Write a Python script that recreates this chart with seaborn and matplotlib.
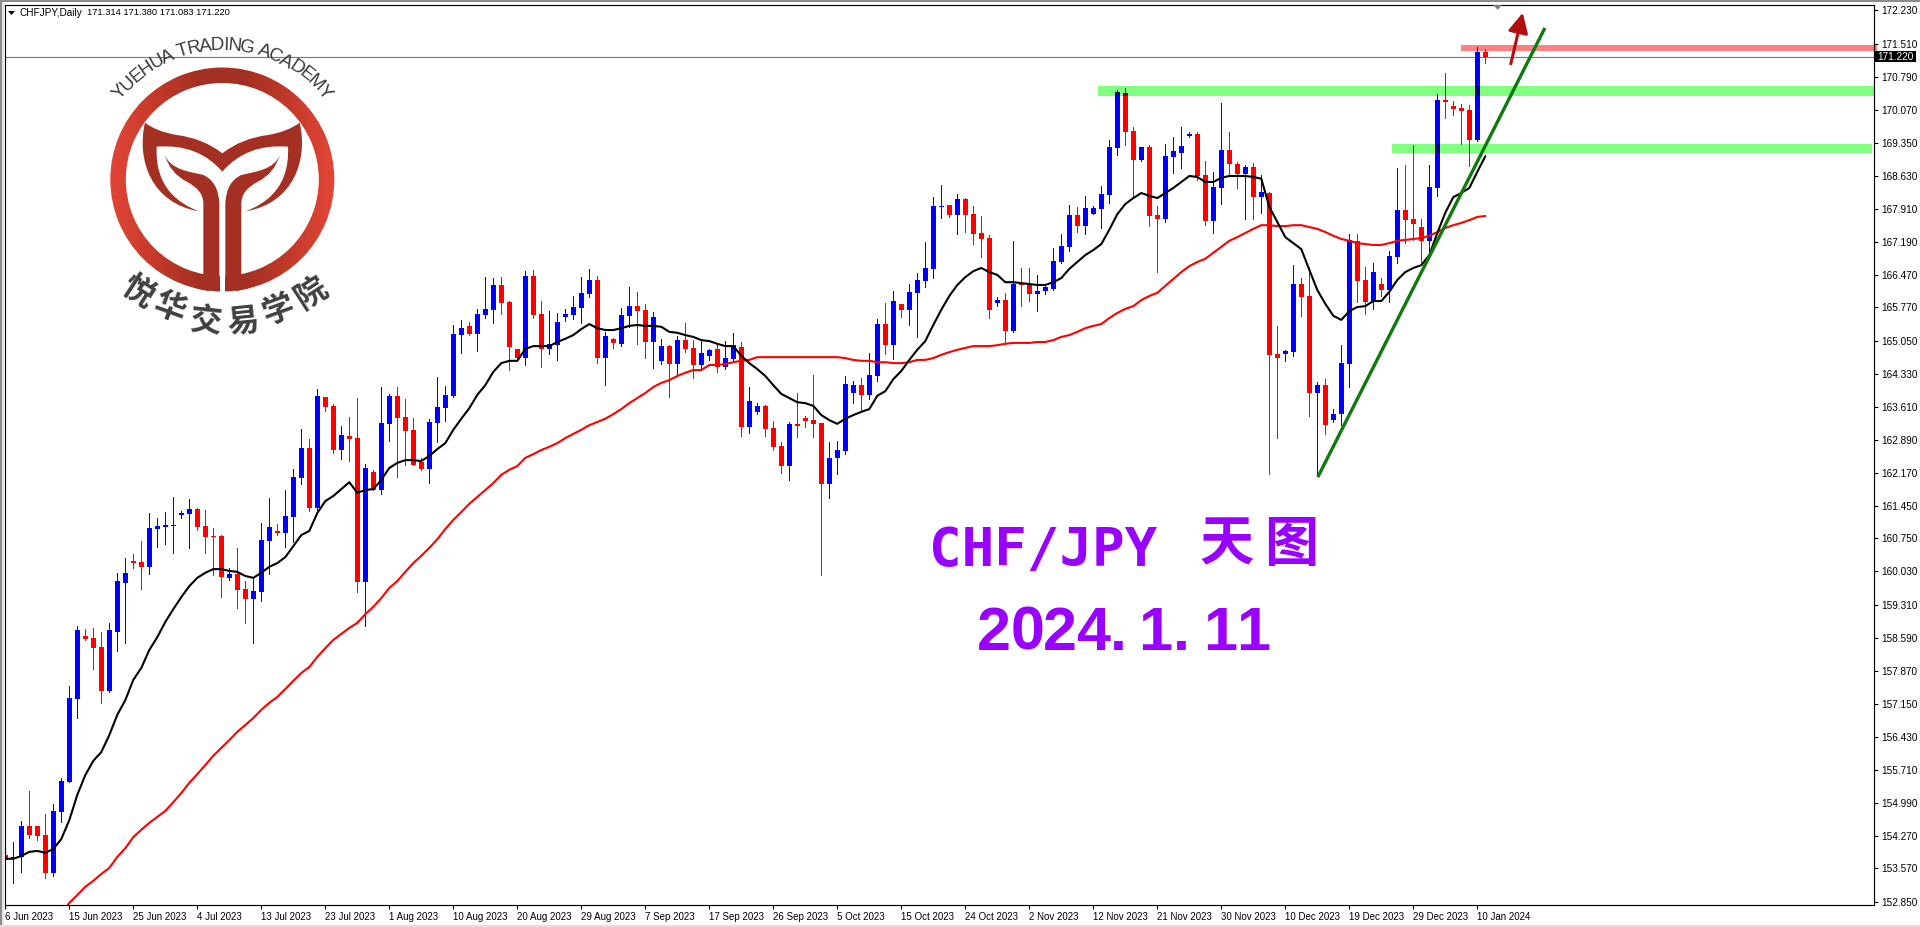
import numpy as np
import pandas as pd
import seaborn as sns
import matplotlib
matplotlib.use('Agg')
import matplotlib.pyplot as plt
from matplotlib.colors import LinearSegmentedColormap
from matplotlib.font_manager import FontProperties
from matplotlib.patches import PathPatch, Rectangle, Wedge, Polygon
from matplotlib.path import Path
from matplotlib.textpath import text_to_path

# candle direction, B = up (blue), R = down (red)
direction = ("RBBRRRBBBBRRRBBBRRBB" "BBBBRRRRBRRBBBRBBBRB" "RRBRRBRBBRRRRBBBBBRB" "BBRRRBRRBBBBBBRBRBBR"
             "RBBRBRRBBRBBRBBRRRBR" "RRRBBBBRBBRBRBBBBBRB" "RRRRBRBRRBBBBBRBBBBB" "RRBRRBBBBRRBBRRBRBRR"
             "BBRRBRBBBRRBRBBRRRBB" "RRRRBR")

highs = [154.30,154.15,154.60,155.25,154.49,154.75,154.97,155.54,157.54,158.84,
         158.78,158.80,158.71,158.91,160.00,160.32,160.41,160.69,161.30,161.19,
         161.32,161.65,161.34,161.60,161.41,161.37,160.97,160.82,160.10,160.54,
         159.82,159.89,161.08,161.63,161.06,161.80,162.26,163.13,162.91,164.00,
         163.82,163.67,163.19,163.39,163.80,162.37,162.24,164.04,163.89,164.04,
         163.78,163.37,162.50,163.35,164.26,164.06,165.39,165.50,165.45,165.74,
         166.43,166.41,166.43,165.91,164.87,166.56,166.59,165.91,165.69,165.65,
         165.74,166.02,166.43,166.61,166.46,165.24,165.11,165.76,166.22,166.11,
         165.85,165.67,165.09,164.95,165.15,165.43,165.06,165.04,164.87,164.95,
         165.04,165.22,165.02,164.04,163.69,163.65,163.30,162.84,163.28,163.91,
         163.41,164.30,163.26,162.84,162.87,164.28,164.17,164.24,164.78,165.52,
         165.87,166.13,165.85,166.28,166.52,167.19,168.17,168.43,168.00,168.24,
         168.15,167.98,167.76,167.35,166.00,166.09,167.22,166.63,166.63,166.48,
         166.24,167.06,167.37,168.00,167.96,168.20,167.98,168.41,169.41,170.50,
         170.54,169.70,169.26,169.30,167.98,169.33,169.48,169.70,169.59,169.59,
         168.96,168.72,170.22,169.59,168.93,168.87,168.91,168.65,168.28,165.37,
         164.85,166.69,166.41,166.65,164.15,164.22,163.56,164.95,167.37,167.37,
         166.65,166.74,166.41,167.00,168.80,168.87,169.30,167.70,168.87,170.41,
         170.87,170.26,170.20,170.17,171.44,171.39]

lows = [153.36,153.25,153.49,154.23,154.19,153.36,153.41,154.58,155.45,156.84,
        158.54,157.91,157.17,157.41,158.30,158.47,160.10,159.65,159.97,160.56,
        160.63,160.43,161.19,160.54,160.93,160.43,159.95,159.47,159.84,159.23,
        158.91,158.47,159.39,159.97,160.82,160.56,160.67,161.93,161.34,161.37,
        163.52,162.61,162.47,162.43,159.58,158.84,161.80,161.71,162.87,162.08,
        162.34,162.34,162.24,161.95,162.84,163.30,163.82,164.78,165.17,164.82,
        165.54,165.43,165.63,164.41,164.67,164.52,165.54,164.48,164.76,164.63,
        165.48,165.52,165.43,166.00,164.56,164.08,164.89,164.93,165.35,164.98,
        164.67,164.45,164.54,163.82,164.28,164.80,164.24,164.43,164.63,164.37,
        164.43,164.61,162.98,163.04,163.45,162.98,162.67,162.17,162.02,162.95,
        163.17,162.95,159.95,161.63,162.15,162.58,163.69,163.50,163.78,164.17,
        164.76,164.65,165.56,165.39,165.13,166.22,166.41,167.72,167.74,167.37,
        167.41,167.15,166.87,165.54,165.80,164.98,165.24,165.80,165.91,165.69,
        166.06,166.15,166.74,167.00,167.41,167.37,167.80,167.50,168.04,169.09,
        169.30,168.17,168.96,167.54,166.54,167.63,168.70,168.80,169.48,168.54,
        167.56,167.39,168.02,168.65,168.37,167.70,167.70,167.83,162.15,162.93,
        164.61,164.72,165.59,163.41,162.15,163.02,163.28,163.21,164.04,165.89,
        165.63,165.74,166.02,165.89,166.74,167.17,167.24,166.76,166.96,168.20,
        169.89,169.96,169.33,168.85,169.39,171.09]

body_tops = [153.86,153.82,154.49,154.49,154.49,154.30,154.82,155.47,157.28,158.76,
             158.63,158.58,158.39,158.76,159.82,160.00,160.26,160.23,160.97,161.02,
             161.04,161.04,161.30,161.39,161.39,161.02,160.80,160.80,159.97,159.97,
             159.65,159.60,160.71,161.00,160.91,161.24,162.08,162.71,162.71,163.85,
             163.82,163.63,163.00,162.98,162.93,162.28,162.19,163.26,163.85,163.85,
             163.39,163.11,162.41,163.28,163.61,163.87,165.19,165.32,165.37,165.63,
             165.74,166.26,166.26,165.89,164.87,166.46,166.46,165.63,164.98,165.45,
             165.63,165.78,166.09,166.37,166.37,165.15,165.09,165.61,165.80,165.80,
             165.72,165.56,164.93,164.93,165.06,165.06,164.89,164.78,164.85,164.87,
             164.67,164.95,164.91,163.74,163.63,163.63,163.15,162.76,163.24,163.24,
             163.37,163.32,163.26,162.50,162.67,164.11,164.08,164.08,164.30,165.41,
             165.41,165.91,165.85,166.11,166.37,166.63,167.98,167.98,168.00,168.13,
             168.13,167.80,167.39,167.28,165.93,165.93,166.28,166.28,166.26,166.13,
             166.22,166.78,167.11,167.78,167.78,167.93,167.93,168.24,169.26,170.46,
             170.44,169.61,169.26,169.26,167.78,169.07,169.17,169.28,169.54,169.54,
             168.65,168.39,169.20,169.20,168.89,168.83,168.83,168.28,168.26,164.76,
             164.82,166.28,166.28,166.02,164.08,164.08,163.45,164.56,167.24,167.22,
             166.37,166.54,166.28,166.89,167.89,167.89,167.70,167.52,168.39,170.28,
             170.28,170.15,170.11,170.07,171.33,171.33]

body_bottoms = [153.75,153.78,153.82,154.30,154.27,153.47,153.47,154.80,155.45,157.26,
                158.56,158.36,157.43,157.43,158.71,159.78,160.21,160.13,160.13,160.95,
                161.00,161.02,161.26,161.28,161.00,160.78,160.78,159.91,159.89,159.63,
                159.43,159.43,159.58,160.69,160.87,160.87,161.21,162.06,161.41,161.41,
                163.61,162.67,162.67,162.91,159.80,159.80,161.80,161.80,163.24,163.37,
                163.08,162.34,162.26,162.26,163.26,163.58,163.85,165.17,165.19,165.19,
                165.61,165.72,165.87,164.91,164.67,164.67,165.61,164.87,164.87,164.95,
                165.56,165.61,165.76,166.06,164.67,164.67,165.00,164.98,165.59,165.69,
                165.02,165.02,164.61,164.54,164.54,164.87,164.52,164.52,164.72,164.48,
                164.48,164.65,163.17,163.17,163.50,163.13,162.74,162.32,162.32,163.19,
                163.30,163.24,161.93,161.93,162.50,162.65,163.91,163.87,163.87,164.28,
                164.95,164.95,165.72,165.72,166.09,166.35,166.61,167.96,167.78,167.78,
                167.78,167.37,167.26,165.72,165.87,165.26,165.26,166.26,166.06,166.06,
                166.13,166.17,166.76,167.09,167.54,167.54,167.80,167.91,168.22,169.24,
                169.59,168.98,168.98,167.76,167.70,167.70,169.04,169.13,169.50,168.63,
                167.65,167.65,168.37,168.89,168.67,168.67,168.17,168.17,164.74,164.67,
                164.76,164.80,166.00,163.91,163.91,163.21,163.32,163.45,164.54,166.35,
                165.89,165.91,166.15,166.15,166.87,167.67,167.59,167.22,167.22,168.37,
                170.24,170.09,170.04,169.41,169.41,171.22]

# black moving average
ma_fast = [153.78,153.78,153.84,153.93,153.95,153.91,153.99,154.21,154.62,155.17,
           155.60,155.91,156.10,156.47,156.91,157.23,157.67,157.93,158.32,158.60,
           158.93,159.21,159.47,159.71,159.89,160.00,160.08,160.08,160.04,160.02,
           159.93,159.89,160.00,160.13,160.21,160.34,160.58,160.82,160.91,161.30,
           161.56,161.67,161.82,161.97,161.74,161.80,161.82,162.02,162.28,162.39,
           162.45,162.45,162.43,162.54,162.69,162.82,163.11,163.35,163.58,163.87,
           164.08,164.37,164.56,164.61,164.61,164.87,164.93,164.93,164.93,165.02,
           165.09,165.17,165.30,165.41,165.32,165.28,165.28,165.32,165.37,165.39,
           165.37,165.37,165.35,165.24,165.22,165.17,165.13,165.06,165.04,164.98,
           164.93,164.93,164.72,164.56,164.43,164.28,164.08,163.89,163.80,163.71,
           163.69,163.63,163.43,163.32,163.24,163.35,163.43,163.50,163.56,163.85,
           163.95,164.21,164.39,164.63,164.85,165.04,165.39,165.72,166.02,166.26,
           166.43,166.56,166.63,166.54,166.48,166.32,166.32,166.30,166.28,166.26,
           166.26,166.32,166.41,166.61,166.76,166.91,167.02,167.15,167.46,167.80,
           168.02,168.15,168.26,168.20,168.15,168.26,168.37,168.50,168.63,168.61,
           168.50,168.50,168.59,168.63,168.63,168.63,168.61,168.57,167.96,167.63,
           167.30,167.17,167.04,166.59,166.15,165.85,165.59,165.50,165.69,165.78,
           165.80,165.91,165.91,166.11,166.37,166.54,166.63,166.69,166.91,167.39,
           167.83,168.17,168.26,168.37,168.72,169.06]

# red moving average, comes in from below the chart
nan = float('nan')
ma_slow = [nan,nan,nan,nan,nan,nan,nan,152.56,152.82,152.99,
           153.17,153.30,153.45,153.58,153.82,154.01,154.25,154.41,154.56,154.69,
           154.82,155.01,155.21,155.43,155.62,155.82,156.02,156.19,156.36,156.54,
           156.69,156.84,157.02,157.17,157.30,157.47,157.65,157.82,157.95,158.17,
           158.36,158.54,158.67,158.80,158.91,159.10,159.26,159.45,159.67,159.82,
           160.02,160.21,160.37,160.54,160.73,160.95,161.15,161.32,161.50,161.65,
           161.80,161.95,162.13,162.24,162.32,162.50,162.58,162.67,162.74,162.82,
           162.93,163.02,163.11,163.21,163.28,163.35,163.45,163.56,163.69,163.80,
           163.91,164.04,164.13,164.19,164.28,164.35,164.41,164.41,164.52,164.52,
           164.54,164.58,164.61,164.63,164.69,164.69,164.69,164.69,164.69,164.69,
           164.69,164.69,164.69,164.69,164.69,164.67,164.63,164.61,164.61,164.58,
           164.58,164.56,164.56,164.58,164.63,164.63,164.67,164.74,164.80,164.85,
           164.89,164.93,164.93,164.93,164.95,164.98,165.00,165.00,165.00,165.02,
           165.02,165.06,165.13,165.17,165.24,165.32,165.37,165.41,165.54,165.65,
           165.74,165.80,165.93,166.02,166.09,166.24,166.39,166.54,166.67,166.76,
           166.83,166.96,167.09,167.22,167.30,167.39,167.48,167.56,167.56,167.54,
           167.54,167.56,167.56,167.52,167.48,167.41,167.33,167.26,167.22,167.17,
           167.15,167.13,167.13,167.17,167.22,167.24,167.26,167.28,167.33,167.41,
           167.50,167.56,167.61,167.67,167.74,167.76]

price_ticks = [152.85,153.57,154.27,154.99,155.71,156.43,157.15,157.87,158.59,159.31,
               160.03,160.75,161.45,162.17,162.89,163.61,164.33,165.05,165.77,166.47,
               167.19,167.91,168.63,169.35,170.07,170.79,171.51,172.23]
date_labels = ['6 Jun 2023','15 Jun 2023','25 Jun 2023','4 Jul 2023','13 Jul 2023','23 Jul 2023',
               '1 Aug 2023','10 Aug 2023','20 Aug 2023','29 Aug 2023','7 Sep 2023','17 Sep 2023',
               '26 Sep 2023','5 Oct 2023','15 Oct 2023','24 Oct 2023','2 Nov 2023','12 Nov 2023',
               '21 Nov 2023','30 Nov 2023','10 Dec 2023','19 Dec 2023','29 Dec 2023','10 Jan 2024']
last_close = 171.22

df = pd.DataFrame({'bar': np.arange(len(direction)), 'dir': list(direction), 'high': highs, 'low': lows,
                   'top': body_tops, 'bottom': body_bottoms, 'fast': ma_fast, 'slow': ma_slow})

sns.set_theme(style='white')
W, H = 1920, 927
UI = 'Liberation Sans'

fig = plt.figure(figsize=(W / 100, H / 100), dpi=100, facecolor='white')
left, right, top, bottom = 4.7, 1873.7, 4.7, 904.5
ax = fig.add_axes([left / W, 1 - bottom / H, (right - left) / W, (bottom - top) / H])
ax.set_facecolor('white')
ax.set_xlim(-0.075, 233.55)
ax.set_ylim(152.785, 172.356)

BODY_W = 0.66
colors = df['dir'].map({'B': '#0000FF', 'R': '#FF0000'})
ax.vlines(df['bar'], df['low'], df['high'], colors=colors, linewidth=0.72, antialiased=False, zorder=2)
ax.bar(df['bar'], df['top'] - df['bottom'], bottom=df['bottom'], width=BODY_W, color=colors,
       linewidth=0, antialiased=False, zorder=2)

sns.lineplot(data=df, x='bar', y='slow', color='#FF0000', linewidth=1.5, ax=ax, legend=False, errorbar=None, zorder=3)
sns.lineplot(data=df, x='bar', y='fast', color='#000000', linewidth=1.5, ax=ax, legend=False, errorbar=None, zorder=3)

# support / resistance bands, candle bodies show darker through them
bands = [(136.6, 233.65, 170.37, 170.59, '#80FF80', {'B': '#000080', 'R': '#800000'}),
         (173.3, 233.4, 169.13, 169.33, '#80FF80', {'B': '#000080', 'R': '#800000'}),
         (181.96, 233.96, 171.35, 171.48, '#FF8080', {'B': '#000080', 'R': '#FF0000'})]
for x0, x1, y0, y1, col, dark in bands:
    rect = Rectangle((x0, y0), x1 - x0, y1 - y0, facecolor=col, edgecolor='none', clip_on=False, zorder=1)
    ax.add_patch(rect)
    inside = df[(df['bar'] >= x0) & (df['top'] > y0) & (df['bottom'] < y1)]
    darker = ax.bar(inside['bar'], inside['top'] - inside['bottom'], bottom=inside['bottom'], width=BODY_W,
                    color=inside['dir'].map(dark), linewidth=0, antialiased=False, zorder=2.5)
    for b in darker:
        b.set_clip_path(rect)

ax.axhline(last_close, color='#708090', linewidth=0.85, zorder=1.5)

# trend line and arrow
ax.plot([164.06, 192.45], [162.08, 171.85], color='#0E7A0E', linewidth=2.4, solid_capstyle='butt', zorder=4)
ax.annotate('', xy=(189.68, 172.18), xytext=(188.19, 171.07),
            arrowprops=dict(arrowstyle='-|>,head_length=0.75,head_width=0.38', color='#B01010', lw=2.2,
                            mutation_scale=16, shrinkA=0, shrinkB=0), zorder=5)

for side in ['left', 'right', 'top', 'bottom']:
    ax.spines[side].set_visible(True)
    ax.spines[side].set_color('black')
    ax.spines[side].set_linewidth(0.85)
    ax.spines[side].set_zorder(6)

ax.set_xlabel('')
ax.set_ylabel('')
ax.yaxis.tick_right()
ax.set_yticks(price_ticks)
ax.set_yticklabels([f'{p:.3f}' for p in price_ticks], fontfamily=UI, fontsize=7.2, color='black')
ax.set_xticks(np.arange(len(date_labels)) * 8)
ax.set_xticklabels(date_labels, fontfamily=UI, fontsize=7, color='black', ha='left')
ax.tick_params(axis='y', which='major', right=True, length=3, width=0.8, pad=2.5, color='black')
ax.tick_params(axis='x', which='major', bottom=True, length=3, width=0.8, pad=2.5, color='black')

# everything else sits on a pixel-sized overlay
ov = fig.add_axes([0, 0, 1, 1], facecolor='none')
ov.set_axis_off()

# window frame
ov.add_patch(Rectangle((0, 0), 2, H, facecolor='#8C8C8C', edgecolor='none'))
ov.add_patch(Rectangle((2, 0), 1.5, H, facecolor='#E4E4E4', edgecolor='none'))
ov.add_patch(Rectangle((0, 0), W, 1.5, facecolor='#8C8C8C', edgecolor='none'))
ov.add_patch(Rectangle((0, 925), W, 2, facecolor='#E0E0E0', edgecolor='none'))

# header
ov.add_patch(Polygon([(8, 11), (15, 11), (11.5, 15)], closed=True, facecolor='black', edgecolor='none'))
ov.text(20, 12.6, 'CHFJPY,Daily', family=UI, fontsize=7.2, color='black', va='center', ha='left')
ov.text(87, 12.6, '171.314 171.380 171.083 171.220', family=UI, fontsize=6.7, color='black', va='center', ha='left')

# shift marker and last price box
ov.add_patch(Polygon([(1493.5, 5), (1502, 5), (1497.7, 9.8)], closed=True, facecolor='#708090', edgecolor='none'))
ov.add_patch(Rectangle((1875, 51), 41, 11, facecolor='black', edgecolor='none', zorder=5))
ov.text(1895.5, 56.5, '171.220', family=UI, fontsize=7.2, color='white', va='center', ha='center', zorder=6)

# logo, drawn in zoomed logo units (1/3 px)
def lx(x):
    return x / 3

def mirror_pts(pts):
    return [(2 * 667 - x, y) for x, y in pts]

def logo_path(verts, codes):
    return Path([(lx(x), lx(y)) for x, y in verts], codes)

M, L, C3, C4, CL = Path.MOVETO, Path.LINETO, Path.CURVE3, Path.CURVE4, Path.CLOSEPOLY
DARK = '#A33022'

ring = Wedge((222.3, 179.5), 112, 0, 360, width=15.5, facecolor='none', edgecolor='none')
ov.add_patch(ring)
ring_cmap = LinearSegmentedColormap.from_list('ring', ['#E24636', '#C43A2A', DARK, DARK, '#C43A2A', '#E24636'])
img = ov.imshow(np.linspace(0, 1, 256).reshape(1, -1), cmap=ring_cmap, extent=(110, 335, 292, 67), aspect='auto')
img.set_clip_path(ring)

tail_v = [(435, 368), (470, 395), (530, 405), (610, 415), (667, 460), (724, 415), (804, 405),
          (864, 395), (899, 368), (925, 480), (880, 610), (737, 634), (800, 610), (870, 560), (864, 440),
          (740, 430), (667, 515), (594, 430), (470, 440), (464, 560), (534, 610), (597, 634),
          (454, 610), (409, 480), (435, 368), (435, 368)]
tail_c = [M, C3, C3, C3, C3, C3, C3, C3, C3, C4, C4, C4, C4, C4, C4, C3, C3, C3, C3, C4, C4, C4, C4, C4, C4, CL]
ov.add_patch(PathPatch(logo_path(tail_v, tail_c), facecolor=DARK, edgecolor='none'))

stem_v = [(493, 462), (510, 510), (570, 515), (610, 525), (655, 545), (658, 610), (658, 838), (650, 860),
          (625, 873), (590, 866), (610, 822), (610, 610), (610, 570), (560, 545), (510, 520), (493, 462), (493, 462)]
stem_c = [M, C4, C4, C4, C3, C3, L, C3, C3, L, L, L, C3, C3, C3, C3, CL]
ov.add_patch(PathPatch(logo_path(stem_v, stem_c), facecolor=DARK, edgecolor='none'))
ov.add_patch(PathPatch(logo_path(mirror_pts(stem_v), stem_c), facecolor=DARK, edgecolor='none'))
ov.add_patch(Rectangle((lx(658.5), lx(610)), lx(17.5), lx(280), facecolor='white', edgecolor='none'))

# curved logo lettering
arc_font = FontProperties(family=UI, size=13.5)
arc_text = 'YUEHUA TRADING ACADEMY'
widths = [text_to_path.get_text_width_height_descent(ch, arc_font, False)[0] for ch in arc_text]
total = sum(widths)
arc_span = np.radians(104)
pos = 0
for ch, w in zip(arc_text, widths):
    ang = -arc_span / 2 + arc_span * (pos + w / 2) / total
    pos += w
    ov.text(222.3 + 134 * np.sin(ang), 179.5 - 134 * np.cos(ang), ch, fontproperties=arc_font, color='#3A3A3A',
            rotation=-np.degrees(ang), rotation_mode='anchor', ha='center', va='center')

cn_chars = ['悦', '华', '交', '易', '学', '院']
cn_x = [137, 169, 206, 243, 278, 312]
cn_y = [293, 308, 322, 322, 310, 293]
cn_rot = [-33, -20, -6, 6, 20, 33]
for ch, cx, cy, r in zip(cn_chars, cn_x, cn_y, cn_rot):
    ov.text(cx, cy, ch, family='Noto Sans CJK SC', weight='bold', fontsize=23, color='#404040',
            rotation=r, rotation_mode='anchor', ha='center', va='center')

# big purple caption
PURPLE = '#9900FF'
ov.text(929, 566, 'CHF/JPY', family='DejaVu Sans Mono', weight='bold', fontsize=39, color=PURPLE, va='baseline', ha='left')
for ch, cx in zip('天图', [1226.7, 1290.7]):
    ov.text(cx, 545, ch, family='Noto Sans CJK SC', weight='bold', fontsize=39, color=PURPLE, va='center', ha='center')
for ch, cx in zip('2024.1.11', [994, 1028, 1060, 1093, 1118, 1155, 1181, 1220, 1253]):
    ov.text(cx, 650, ch, family='Liberation Sans', weight='bold', fontsize=44, color=PURPLE, va='baseline', ha='center')

ov.set_xlim(0, W)
ov.set_ylim(H, 0)

fig.savefig('out.png', dpi=100, facecolor='white')
